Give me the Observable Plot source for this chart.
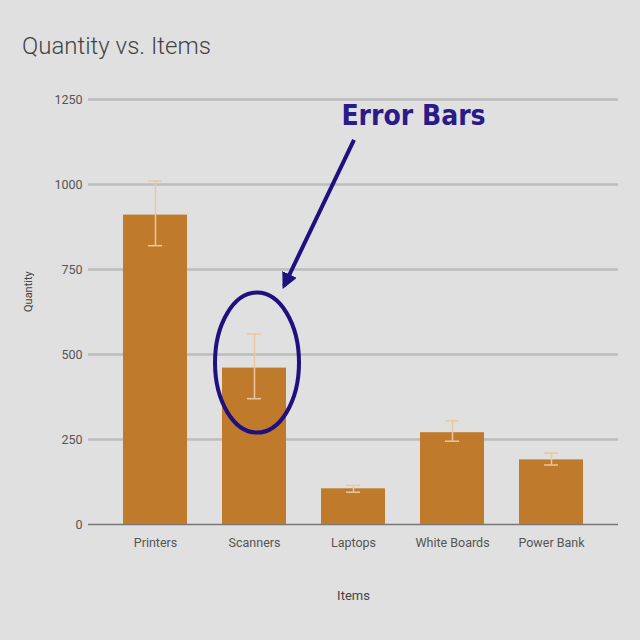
<!DOCTYPE html>
<html><head><meta charset="utf-8">
<script src="https://cdn.jsdelivr.net/npm/d3@7"></script>
<script src="https://cdn.jsdelivr.net/npm/@observablehq/plot@0.6"></script>
<style>
body{margin:0;background:#e0e0e0;font-family:Roboto,sans-serif;}
#title{height:70px;box-sizing:border-box;padding:32px 0 0 22px;font-size:24px;font-weight:300;color:#444;}
</style></head><body>
<div id="title">Quantity vs. Items</div>
<div id="chart"></div>
<script>
const items = ["Printers","Scanners","Laptops","White Boards","Power Bank"];
const quantity = [910, 460, 105, 270, 190];
const errLow = [820, 370, 95, 245, 175];
const errHigh = [1010, 560, 115, 305, 210];
const yTicks = [0, 250, 500, 750, 1000, 1250];
const data = items.map((d,i)=>({item:d,q:quantity[i],lo:errLow[i],hi:errHigh[i]}));

const plot = Plot.plot({
  width:640, height:570,
  marginTop:29, marginBottom:116, marginLeft:88, marginRight:22,
  style:{background:"#e0e0e0", fontFamily:"Roboto, sans-serif", fontSize:"12.5px", color:"#555"},
  x:{domain:items, padding:0.35, label:null, tickSize:0, tickPadding:14},
  y:{domain:[0,1250], ticks:yTicks, tickFormat:"d", label:null, tickSize:0, tickPadding:6},
  marks:[
    Plot.ruleY(yTicks.slice(1), {stroke:"#bdbdbd", strokeWidth:2.5}),
    Plot.ruleY([0], {stroke:"#777", strokeWidth:1.5}),
    Plot.barY(data, {x:"item", y:"q", fill:"#c07a2c"}),
    Plot.ruleX(data, {x:"item", y1:"lo", y2:"hi", stroke:"#e8c9a0", strokeWidth:1.5}),
    Plot.tickY(data, {x:"item", y:"lo", stroke:"#e8c9a0", strokeWidth:1.5, inset:25}),
    Plot.tickY(data, {x:"item", y:"hi", stroke:"#e8c9a0", strokeWidth:1.5, inset:25}),
    Plot.text(["Items"], {frameAnchor:"bottom", dy:75, fill:"#444", fontSize:13}),
    Plot.text(["Quantity"], {frameAnchor:"left", dx:-60, rotate:-90, fill:"#444", fontSize:11}),
    Plot.text(["Error Bars"], {x:()=>"Laptops", y:()=>1200, dx:60, fill:"#2a1a8a", fontSize:28, fontWeight:"bold", fontFamily:"'Liberation Sans Narrow', 'DejaVu Sans Condensed', sans-serif"})
  ]
});
document.getElementById("chart").appendChild(plot);
const sx = plot.scale("x"), sy = plot.scale("y");
const svg = d3.select(plot);
const cx = sx.apply("Scanners") + sx.bandwidth/2 + 3, cy = sy.apply(460) - 5;
svg.append("ellipse").attr("cx",cx).attr("cy",cy).attr("rx",42).attr("ry",70)
  .attr("fill","none").attr("stroke","#1f1080").attr("stroke-width",4);
const defs = svg.append("defs");
defs.append("marker").attr("id","ah").attr("viewBox","0 0 10 10").attr("refX",8).attr("refY",5)
  .attr("markerWidth",4).attr("markerHeight",4).attr("orient","auto")
  .append("path").attr("d","M0,0L10,5L0,10z").attr("fill","#1f1080");
svg.append("line").attr("x1",cx+97).attr("y1",sy.apply(1130)).attr("x2",cx+27).attr("y2",sy.apply(700))
  .attr("stroke","#1f1080").attr("stroke-width",4).attr("marker-end","url(#ah)");
</script></body></html>
